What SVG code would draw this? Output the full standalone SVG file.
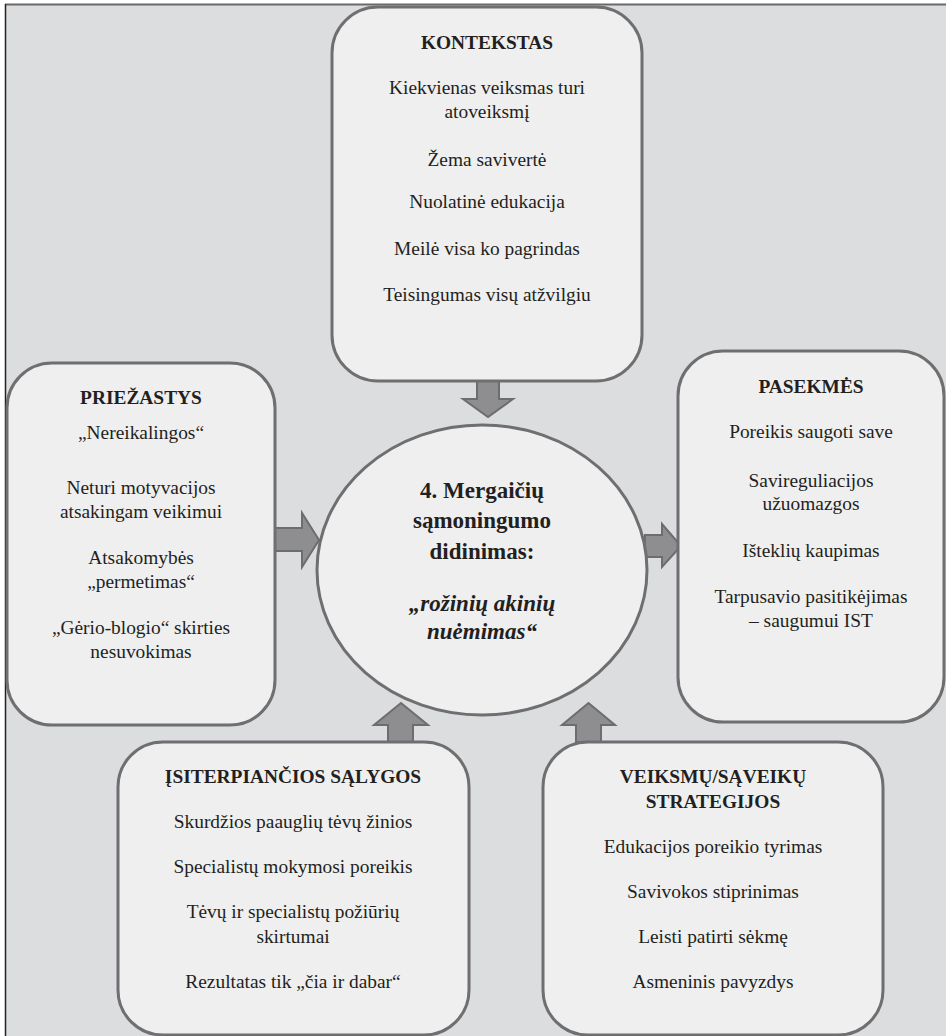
<svg xmlns="http://www.w3.org/2000/svg" width="949" height="1036" viewBox="0 0 949 1036">
<style>
.bg{fill:#dcdddf}
.box{fill:#efefef;stroke:#6f6f71;stroke-width:3}
.arr{fill:#8e8e90;stroke:#6d6d6f;stroke-width:2;stroke-linejoin:miter}
text{fill:#231f20;text-anchor:middle}
.t{font-size:19.4px}
.h{font-size:19.4px;font-weight:bold}
.c{font-size:23px;font-weight:bold}
.ci{font-size:23px;font-weight:bold;font-style:italic}
</style>
<rect x="5" y="5" width="941" height="1031" class="bg"/>
<line x1="5" y1="4.5" x2="946" y2="4.5" stroke="#6a6a6a" stroke-width="2"/>
<line x1="5.5" y1="4" x2="5.5" y2="1036" stroke="#222" stroke-width="1.5"/>

<g id="connectors">
<polygon class="arr" points="477,381 499,381 499,399 513,399 488,417 463,399 477,399"/>
<polygon class="arr" points="275,528 302,528 302,513 319,540 302,567 302,551 275,551"/>
<polygon class="arr" points="645,535 662,535 662,524 681,546 662,567 662,557 645,557"/>
<polygon class="arr" points="388,742 388,725 374,725 401,703 428,725 413,725 413,742"/>
<polygon class="arr" points="576,742 576,725 562,725 588.5,703 615,725 601,725 601,742"/>
</g>

<g font-family="Liberation Serif, Tinos, DejaVu Serif, serif">
<g id="kontekstas">
<rect class="box" x="332" y="7" width="310" height="374" rx="46"/>
<text class="h" x="487" y="49">KONTEKSTAS</text>
<text class="t" x="487" y="94">Kiekvienas veiksmas turi</text>
<text class="t" x="487" y="118">atoveiksmį</text>
<text class="t" x="487" y="166">Žema savivertė</text>
<text class="t" x="487" y="208">Nuolatinė edukacija</text>
<text class="t" x="487" y="255">Meilė visa ko pagrindas</text>
<text class="t" x="487" y="301">Teisingumas visų atžvilgiu</text>
</g>

<g id="priezastys">
<rect class="box" x="7" y="363" width="268" height="362" rx="45"/>
<text class="h" x="141" y="404">PRIEŽASTYS</text>
<text class="t" x="141" y="439">„Nereikalingos“</text>
<text class="t" x="141" y="494">Neturi motyvacijos</text>
<text class="t" x="141" y="518">atsakingam veikimui</text>
<text class="t" x="141" y="564">Atsakomybės</text>
<text class="t" x="141" y="588">„permetimas“</text>
<text class="t" x="141" y="634">„Gėrio-blogio“ skirties</text>
<text class="t" x="141" y="658">nesuvokimas</text>
</g>

<g id="pasekmes">
<rect class="box" x="678" y="351" width="266" height="371" rx="45"/>
<text class="h" x="811" y="393">PASEKMĖS</text>
<text class="t" x="811" y="438">Poreikis saugoti save</text>
<text class="t" x="811" y="487">Savireguliacijos</text>
<text class="t" x="811" y="510">užuomazgos</text>
<text class="t" x="811" y="557">Išteklių kaupimas</text>
<text class="t" x="811" y="603">Tarpusavio pasitikėjimas</text>
<text class="t" x="811" y="627">– saugumui IST</text>
</g>

<g id="center">
<ellipse class="box" cx="482" cy="570" rx="165" ry="145"/>
<text class="c" x="482" y="498">4. Mergaičių</text>
<text class="c" x="482" y="528">sąmoningumo</text>
<text class="c" x="482" y="559">didinimas:</text>
<text class="ci" x="482" y="611">„rožinių akinių</text>
<text class="ci" x="482" y="639">nuėmimas“</text>
</g>

<g id="salygos">
<rect class="box" x="118" y="742" width="351" height="293" rx="45"/>
<text class="h" x="293" y="783">ĮSITERPIANČIOS SĄLYGOS</text>
<text class="t" x="293" y="828">Skurdžios paauglių tėvų žinios</text>
<text class="t" x="293" y="873">Specialistų mokymosi poreikis</text>
<text class="t" x="293" y="918">Tėvų ir specialistų požiūrių</text>
<text class="t" x="293" y="943">skirtumai</text>
<text class="t" x="293" y="988">Rezultatas tik „čia ir dabar“</text>
</g>

<g id="strategijos">
<rect class="box" x="543" y="742" width="340" height="293" rx="45"/>
<text class="h" x="713" y="783">VEIKSMŲ/SĄVEIKŲ</text>
<text class="h" x="713" y="808">STRATEGIJOS</text>
<text class="t" x="713" y="853">Edukacijos poreikio tyrimas</text>
<text class="t" x="713" y="898">Savivokos stiprinimas</text>
<text class="t" x="713" y="943">Leisti patirti sėkmę</text>
<text class="t" x="713" y="988">Asmeninis pavyzdys</text>
</g>
</g>
</svg>
